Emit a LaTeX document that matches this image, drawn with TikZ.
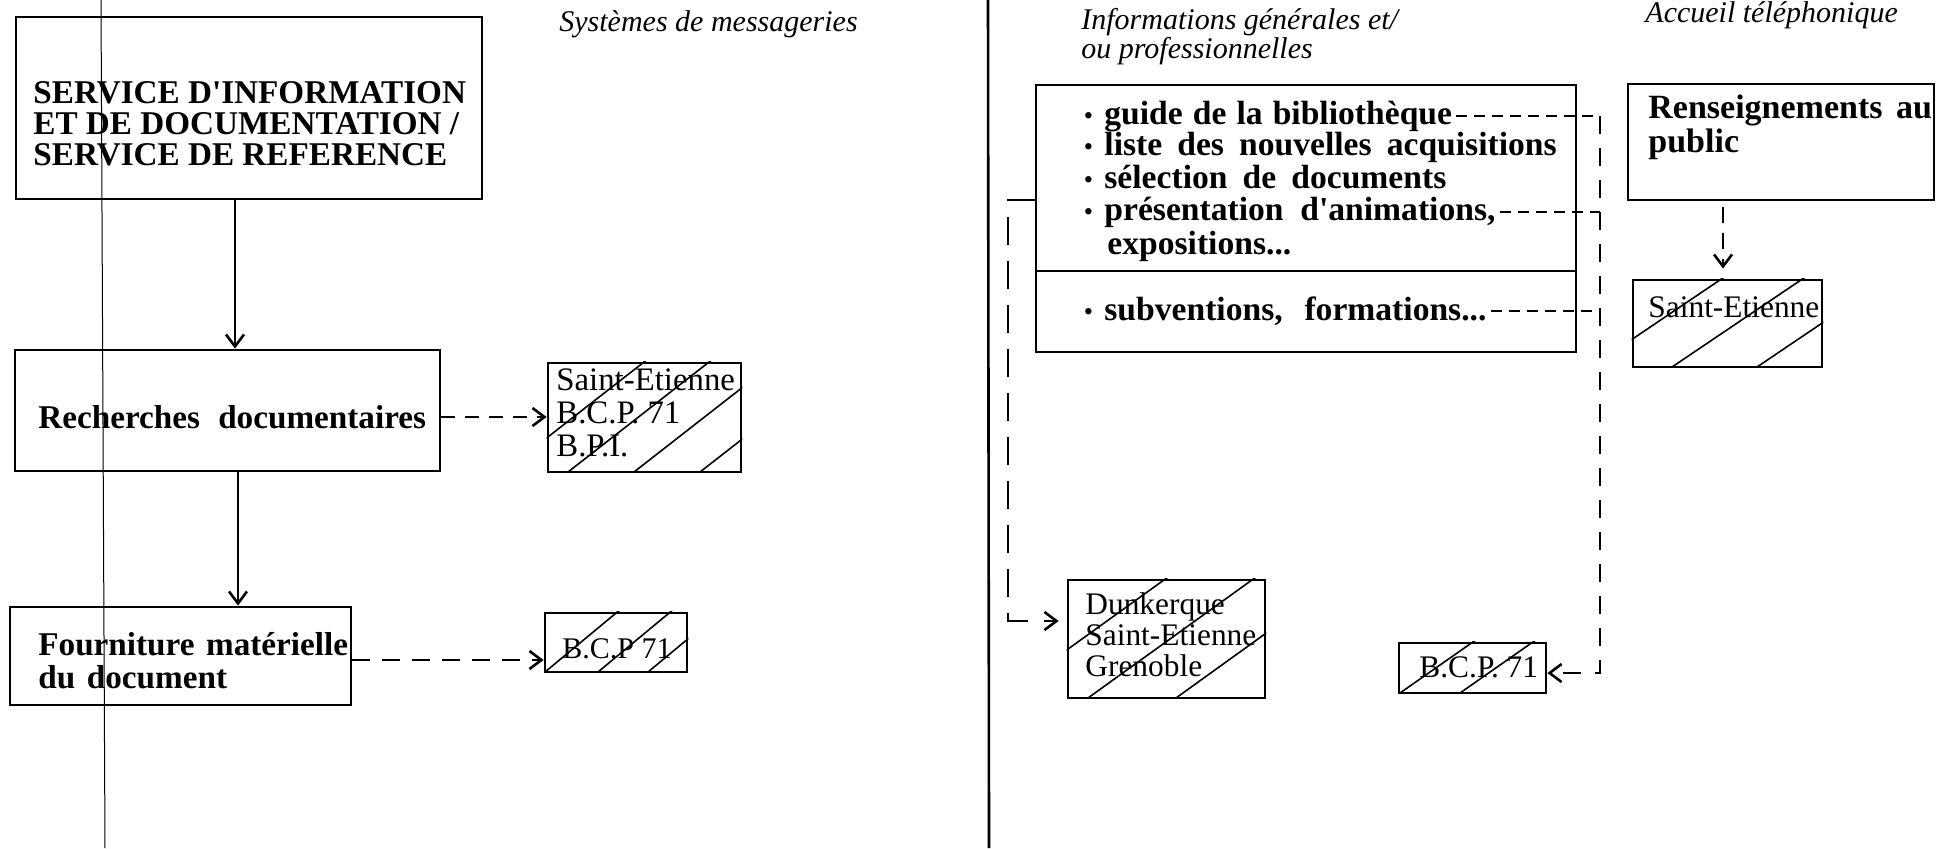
\documentclass[tikz,border=0pt]{standalone}
\usepackage{fontspec}
\setmainfont{Liberation Serif}
\usepackage{graphicx}
\usetikzlibrary{fit,arrows.meta}
\newcommand{\bul}{\makebox[10pt][l]{\raisebox{0.02em}{\scalebox{0.7}{\textbullet}}}}
\tikzset{
  box/.style={draw, line width=1.4pt, inner sep=0pt},
  bt/.style={font=\bfseries\fontsize{16.6}{15.5}\selectfont, inner sep=0pt, align=left},
  bb/.style={font=\bfseries\fontsize{16.8}{15}\selectfont, inner sep=0pt, align=left},
  it/.style={font=\itshape\fontsize{15}{14.5}\selectfont, inner sep=0pt, align=left},
  rt/.style={font=\fontsize{15.7}{15.5}\selectfont, inner sep=0pt, align=left},
  hatch/.style={line width=0.8pt},
  arr/.style={line width=1.1pt, -{Straight Barb[length=6pt,width=9pt,line width=1.3pt]}},
  sdash/.style={line width=1.1pt, dash pattern=on 5.5pt off 3.5pt},
}
\begin{document}
\begin{tikzpicture}[x=0.5pt,y=-0.5pt]
\useasboundingbox (0,0) rectangle (1936,848);
% page lines
\draw[line width=0.5pt] (101,0) -- (105,848);
\draw[line width=1.3pt] (988,0) -- (989,848);

% ---------- left part ----------
\node[it, anchor=base west] (msg) at (559,31) {Systèmes de messageries};

\node[box, fit={(16,17) (482,199)}] (top) {};
\node[bt, anchor=base west] (toptxt) at (33,165) {SERVICE D\textquotesingle INFORMATION\\ET DE DOCUMENTATION /\\SERVICE DE REFERENCE};

\node[box, fit={(15,350) (440,471)}] (rech) {};
\node[bt, anchor=base west] (rechtxt) at (38,428) {Recherches\hspace{0.55em}documentaires};

\node[box, fit={(10,607) (351,705)}] (four) {};
\node[bt, anchor=base west, font=\bfseries\fontsize{16.6}{16.5}\selectfont] (fourtxt) at (38,688) {Fourniture\hspace{0.35em}matérielle\\du\hspace{0.35em}document};

% hatched box 1
\node[box, fit={(548,363) (741,472)}] (b1) {};
\begin{scope}
  \clip (b1.south west) rectangle (b1.north east);
  \foreach \c in {503,568,634,700} \draw[hatch] (\c,472) -- ++(200,-156);
\end{scope}
\node[box, fit={(548,363) (741,472)}] {};
\node[rt, anchor=base west, font=\fontsize{16.4}{16.5}\selectfont] (b1txt) at (556,456) {Saint-Etienne\\B.C.P. 71\\B.P.I.};

% hatched box 2
\node[box, fit={(545,613) (687,672)}] (b2) {};
\begin{scope}
  \clip (b2.south west) rectangle (b2.north east);
  \foreach \c in {545,598,648} \draw[hatch] (\c,672) -- ++(100,-83);
\end{scope}
\node[box, fit={(545,613) (687,672)}] {};
\node[rt, anchor=base west, font=\fontsize{15}{15}\selectfont] (b2txt) at (562,658) {B.C.P 71};

% left connectors
\coordinate (ax1) at (235,0);
\coordinate (ax2) at (238,0);
\coordinate (ay1) at (0,417);
\coordinate (ay2) at (0,660);
\draw[arr] (ax1 |- top.south) -- (ax1 |- rech.north);
\draw[arr] (ax2 |- rech.south) -- (ax2 |- four.north);
\draw[arr, dash pattern=on 7pt off 5pt] (rech.east |- ay1) -- (b1.west |- ay1);
\draw[arr, dash pattern=on 9pt off 6pt] (four.east |- ay2) -- (b2.west |- ay2);

% ---------- right part ----------
\node[it, anchor=base west] (info) at (1081,58) {Informations générales et/\\ou professionnelles};
\node[it, anchor=base west] (acc) at (1645,22) {Accueil téléphonique};

\node[box, fit={(1036,85) (1576,352)}] (big) {};
\coordinate (dv) at (0,271);
\draw[line width=1.4pt] (big.west |- dv) -- (big.east |- dv);

\node[bb, anchor=base west] (g1) at (1084,124) {\bul guide\hspace{0.3em}de\hspace{0.3em}la\hspace{0.3em}bibliothèque};
\node[bb, anchor=base west] (g2) at (1084,155) {\bul liste\hspace{0.45em}des\hspace{0.45em}nouvelles\hspace{0.45em}acquisitions};
\node[bb, anchor=base west] (g3) at (1084,188) {\bul sélection\hspace{0.45em}de\hspace{0.45em}documents};
\node[bb, anchor=base west] (g4) at (1084,220) {\bul présentation\hspace{0.5em}d\textquotesingle animations,};
\node[bb, anchor=base west] (g5) at (1107,254) {expositions...};
\node[bb, anchor=base west] (g6) at (1084,320) {\bul subventions,\hspace{0.65em}formations...};

\node[box, fit={(1628,84) (1934,200)}] (rens) {};
\node[bb, anchor=base west, font=\bfseries\fontsize{17}{15}\selectfont] (renstxt) at (1648,152) {Renseignements\hspace{0.4em}au\\public};

% right Saint-Etienne
\node[box, fit={(1633,280) (1822,367)}] (se2) {};
\begin{scope}
  \clip (se2.south west) rectangle (se2.north east);
  \foreach \c in {1591,1672,1757} \draw[hatch] (\c,367) -- ++(200,-135);
\end{scope}
\node[box, fit={(1633,280) (1822,367)}] {};
\node[rt, anchor=base west] (se2txt) at (1648,317) {Saint-Etienne};

% Dunkerque
\node[box, fit={(1068,580) (1265,698)}] (dunk) {};
\begin{scope}
  \clip (dunk.south west) rectangle (dunk.north east);
  \foreach \c in {1000,1088,1176} \draw[hatch] (\c,698) -- ++(200,-144);
\end{scope}
\node[box, fit={(1068,580) (1265,698)}] {};
\node[rt, anchor=base west] (dunktxt) at (1085,676) {Dunkerque\\Saint-Etienne\\Grenoble};

% B.C.P. right
\node[box, fit={(1399,643) (1546,693)}] (bcpR) {};
\begin{scope}
  \clip (bcpR.south west) rectangle (bcpR.north east);
  \foreach \c in {1400,1460} \draw[hatch] (\c,693) -- ++(100,-70);
\end{scope}
\node[box, fit={(1399,643) (1546,693)}] {};
\node[rt, anchor=base west] (bcpRtxt) at (1419,677) {B.C.P. 71};

% right connectors
\coordinate (vx) at (1600,0);
\coordinate (ay3) at (0,673);
\coordinate (lx) at (1008,0);
\coordinate (ly1) at (0,200);
\coordinate (ly2) at (0,621);
\coordinate (rx) at (1723,0);
\draw[sdash, shorten <=2pt] (g1.east) -- (g1.east -| vx);
\draw[sdash, shorten <=2pt] (g4.east) -- (g4.east -| vx);
\draw[sdash, shorten <=2pt] (g6.east) -- (g6.east -| vx);
\draw[arr, dash pattern=on 9pt off 7pt] (vx |- g1.east) -- (vx |- ay3) -- (bcpR.east |- ay3);
\draw[arr, dash pattern=on 14pt off 8pt, shorten >=4pt] (big.west |- ly1) -| (lx |- ly2) -- (dunk.west |- ly2);
\draw[arr, dash pattern=on 8pt off 5pt, shorten <=3pt, shorten >=5pt] (rx |- rens.south) -- (rx |- se2.north);
\end{tikzpicture}
\end{document}
